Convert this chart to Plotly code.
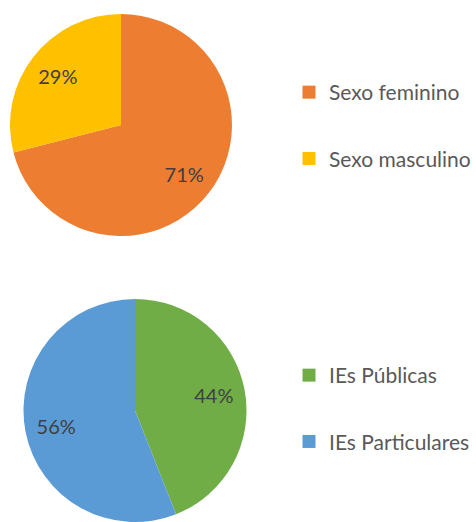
import plotly.graph_objects as go

# Dados dos dois gráficos de pizza
sexo_labels = ["Sexo feminino", "Sexo masculino"]
sexo_valores = [71, 29]
sexo_cores = ["#ED7D31", "#FFC000"]

ies_labels = ["IEs Públicas", "IEs Particulares"]
ies_valores = [44, 56]
ies_cores = ["#70AD47", "#5B9BD5"]

W, H = 476, 522
FONTE = "Lato"

dominio_sexo = dict(x=[10 / W, 232 / W], y=[1 - 236 / H, 1 - 14 / H])
dominio_ies = dict(x=[21 / W, 249 / W], y=[0, 1 - 299 / H])

fig = go.Figure()


def add_pizza(labels, valores, cores, dominio):
    # fatias coloridas, sem texto
    fig.add_trace(
        go.Pie(
            labels=labels, values=valores,
            marker=dict(colors=cores, line=dict(width=0)),
            sort=False, direction="clockwise", rotation=0,
            textinfo="none", domain=dominio, showlegend=False,
            hoverinfo="label+percent",
        )
    )
    # camada transparente com furo: so para posicionar os percentuais
    fig.add_trace(
        go.Pie(
            labels=labels, values=valores, hole=0.44,
            marker=dict(colors=["rgba(0,0,0,0)"] * len(labels), line=dict(width=0)),
            sort=False, direction="clockwise", rotation=0,
            textinfo="percent", textposition="inside",
            insidetextorientation="horizontal",
            textfont=dict(family=FONTE, size=20, color="#404040"),
            domain=dominio, showlegend=False, hoverinfo="skip",
        )
    )


add_pizza(sexo_labels, sexo_valores, sexo_cores, dominio_sexo)
add_pizza(ies_labels, ies_valores, ies_cores, dominio_ies)

# Legendas: traços "fantasma" para controlar o espaçamento entre itens
for nome, cor in zip(sexo_labels, sexo_cores):
    fig.add_trace(
        go.Scatter(
            x=[None], y=[None], mode="markers", name=nome,
            marker=dict(symbol="square", size=13, color=cor),
            legendgroup=nome, legend="legend",
        )
    )
for nome, cor in zip(ies_labels, ies_cores):
    fig.add_trace(
        go.Scatter(
            x=[None], y=[None], mode="markers", name=nome,
            marker=dict(symbol="square", size=13, color=cor),
            legendgroup=nome, legend="legend2",
        )
    )

legenda_base = dict(
    font=dict(family=FONTE, size=21, color="#595959"),
    bgcolor="rgba(0,0,0,0)",
    tracegroupgap=36,
    xanchor="left",
    yanchor="top",
    itemclick=False,
)

fig.update_layout(
    width=W,
    height=H,
    margin=dict(l=0, r=0, t=0, b=0),
    paper_bgcolor="#FFFFFF",
    plot_bgcolor="#FFFFFF",
    xaxis=dict(visible=False),
    yaxis=dict(visible=False),
    legend=dict(legenda_base, x=289 / W, y=1 - 72 / H),
    legend2=dict(legenda_base, x=289 / W, y=1 - 355 / H),
)

fig.write_html(
    "out.html",
    config={"displayModeBar": False},
    post_script="document.body.style.margin='0';document.body.style.overflow='hidden';",
)
